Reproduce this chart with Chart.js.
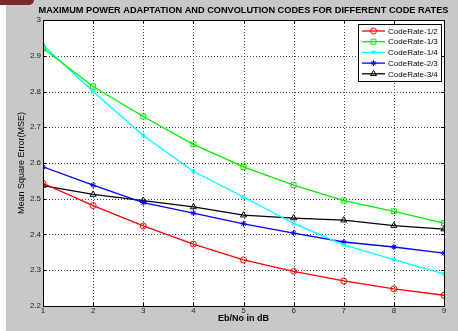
<!DOCTYPE html>
<html>
<head>
<meta charset="utf-8">
<script src="https://cdn.jsdelivr.net/npm/chart.js@4"></script>
<style>
  html, body { margin: 0; padding: 0; background: #fff; width: 458px; height: 331px; overflow: hidden; }
  #wrap { position: absolute; left: 6px; top: 0; width: 452px; height: 331px; background: #c8c8c8; }
  #blob { position: absolute; left: 0; top: 0; width: 34px; height: 5px; background: #7a2a2a; border-bottom-right-radius: 6px; }
</style>
</head>
<body>
<div id="wrap"><canvas id="c" width="452" height="331"></canvas></div>
<div id="blob"></div>
<script>
const TITLE = 'MAXIMUM POWER ADAPTATION AND CONVOLUTION CODES FOR DIFFERENT CODE RATES';
const X_LABEL = 'Eb/No in dB';
const Y_LABEL = 'Mean Square Error(MSE)';

const ebno = [1, 2, 3, 4, 5, 6, 7, 8, 9];
const rate12 = [2.543, 2.481, 2.424, 2.373, 2.329, 2.297, 2.270, 2.248, 2.230];
const rate13 = [2.921, 2.814, 2.730, 2.652, 2.589, 2.538, 2.495, 2.465, 2.432];
const rate14 = [2.930, 2.800, 2.677, 2.577, 2.505, 2.431, 2.371, 2.330, 2.290];
const rate23 = [2.589, 2.538, 2.489, 2.460, 2.430, 2.404, 2.379, 2.365, 2.348];
const rate34 = [2.537, 2.512, 2.495, 2.477, 2.454, 2.446, 2.440, 2.425, 2.415];

const SERIES = [
  { label: 'CodeRate-1/2', data: rate12, color: '#ff0000', style: 'circle', r: 3 },
  { label: 'CodeRate-1/3', data: rate13, color: '#00ee00', style: 'rect', r: 3.5 },
  { label: 'CodeRate-1/4', data: rate14, color: '#00ffff', style: 'rect', r: 2 },
  { label: 'CodeRate-2/3', data: rate23, color: '#0000ff', style: 'star', r: 3 },
  { label: 'CodeRate-3/4', data: rate34, color: '#000000', style: 'triangle', r: 3.5 },
];

const FONT = 'Arial, "Liberation Sans", sans-serif';

// white plot box with dotted grid, under the lines
const backPlugin = {
  id: 'back',
  beforeDatasetsDraw(chart) {
    const { ctx, chartArea: a, scales } = chart;
    ctx.save();
    ctx.fillStyle = '#fff';
    ctx.fillRect(a.left, a.top, a.right - a.left, a.bottom - a.top);
    ctx.strokeStyle = '#444';
    ctx.lineWidth = 1;
    ctx.setLineDash([1, 2]);
    ctx.beginPath();
    scales.x.ticks.forEach(t => {
      const x = Math.round(scales.x.getPixelForValue(t.value)) + 0.5;
      ctx.moveTo(x, a.top); ctx.lineTo(x, a.bottom);
    });
    scales.y.ticks.forEach(t => {
      const y = Math.round(scales.y.getPixelForValue(t.value)) + 0.5;
      ctx.moveTo(a.left, y); ctx.lineTo(a.right, y);
    });
    ctx.stroke();
    ctx.restore();
  },
};

// frame, inward tick marks, title and boxed legend, drawn like the matlab figure
const figurePlugin = {
  id: 'figure',
  afterDraw(chart) {
    const { ctx, chartArea: a, scales } = chart;
    ctx.save();
    ctx.strokeStyle = '#000';
    ctx.lineWidth = 1;
    ctx.setLineDash([]);
    ctx.strokeRect(Math.round(a.left) + 0.5, Math.round(a.top) + 0.5,
      Math.round(a.right - a.left), Math.round(a.bottom - a.top));

    ctx.beginPath();
    scales.x.ticks.forEach(t => {
      const x = Math.round(scales.x.getPixelForValue(t.value)) + 0.5;
      ctx.moveTo(x, a.top); ctx.lineTo(x, a.top + 3);
      ctx.moveTo(x, a.bottom); ctx.lineTo(x, a.bottom - 3);
    });
    scales.y.ticks.forEach(t => {
      const y = Math.round(scales.y.getPixelForValue(t.value)) + 0.5;
      ctx.moveTo(a.left, y); ctx.lineTo(a.left + 3, y);
      ctx.moveTo(a.right, y); ctx.lineTo(a.right - 3, y);
    });
    ctx.stroke();

    // title
    ctx.fillStyle = '#000';
    ctx.font = 'bold 9.2px ' + FONT;
    ctx.textAlign = 'center';
    ctx.textBaseline = 'middle';
    ctx.fillText(TITLE, (a.left + a.right) / 2, 10);

    // legend
    const bw = 83, bh = 57;
    const bx = Math.round(a.right) - 3 - bw, by = Math.round(a.top) + 4;
    ctx.fillStyle = '#fff';
    ctx.fillRect(bx, by, bw, bh);
    ctx.strokeStyle = '#000';
    ctx.strokeRect(bx + 0.5, by + 0.5, bw, bh);
    ctx.font = '8px ' + FONT;
    ctx.textAlign = 'left';
    chart.data.datasets.forEach((ds, i) => {
      const y = by + 7 + i * 10.7;
      ctx.strokeStyle = ds.borderColor;
      ctx.lineWidth = 1.3;
      ctx.beginPath();
      ctx.moveTo(bx + 4, y); ctx.lineTo(bx + 27, y);
      ctx.stroke();
      ctx.fillStyle = 'rgba(0,0,0,0)';
      ctx.lineWidth = 1;
      Chart.helpers.drawPoint(ctx, {
        pointStyle: ds.pointStyle, radius: ds.pointRadius, borderWidth: 1, rotation: 0,
      }, bx + 15.5, y);
      ctx.fillStyle = '#000';
      ctx.fillText(ds.label, bx + 30, y + 0.5);
    });
    ctx.restore();
  },
};

new Chart(document.getElementById('c'), {
  type: 'line',
  data: {
    datasets: SERIES.map(s => ({
      label: s.label,
      data: ebno.map((x, i) => ({ x, y: s.data[i] })),
      borderColor: s.color,
      backgroundColor: 'rgba(0,0,0,0)',
      pointBackgroundColor: 'rgba(0,0,0,0)',
      pointBorderColor: s.color,
      pointStyle: s.style,
      pointRadius: s.r,
      pointBorderWidth: 1,
      borderWidth: 1.3,
      tension: 0,
      fill: false,
    })),
  },
  options: {
    responsive: false,
    animation: false,
    events: [],
    layout: { padding: { top: 20, right: 14, left: 0, bottom: 0 } },
    plugins: { legend: { display: false }, title: { display: false }, tooltip: { enabled: false } },
    scales: {
      x: {
        type: 'linear', min: 1, max: 9,
        afterFit: s => { s.height = 25; },
        ticks: { stepSize: 1, color: '#222', padding: 0, font: { family: FONT, size: 8 } },
        grid: { display: false, drawTicks: false },
        border: { display: false },
        title: { display: true, text: X_LABEL, color: '#000', font: { family: FONT, size: 9, weight: 'bold' }, padding: { top: 0, bottom: 7 } },
      },
      y: {
        min: 2.2, max: 3,
        afterFit: s => { s.width = 37; },
        ticks: { stepSize: 0.1, color: '#222', padding: 2, font: { family: FONT, size: 8 }, callback: v => String(+v.toFixed(1)) },
        grid: { display: false, drawTicks: false },
        border: { display: false },
        title: { display: true, text: Y_LABEL, color: '#000', font: { family: FONT, size: 9 }, padding: { top: 10, bottom: 0 } },
      },
    },
  },
  plugins: [backPlugin, figurePlugin],
});
</script>
</body>
</html>
